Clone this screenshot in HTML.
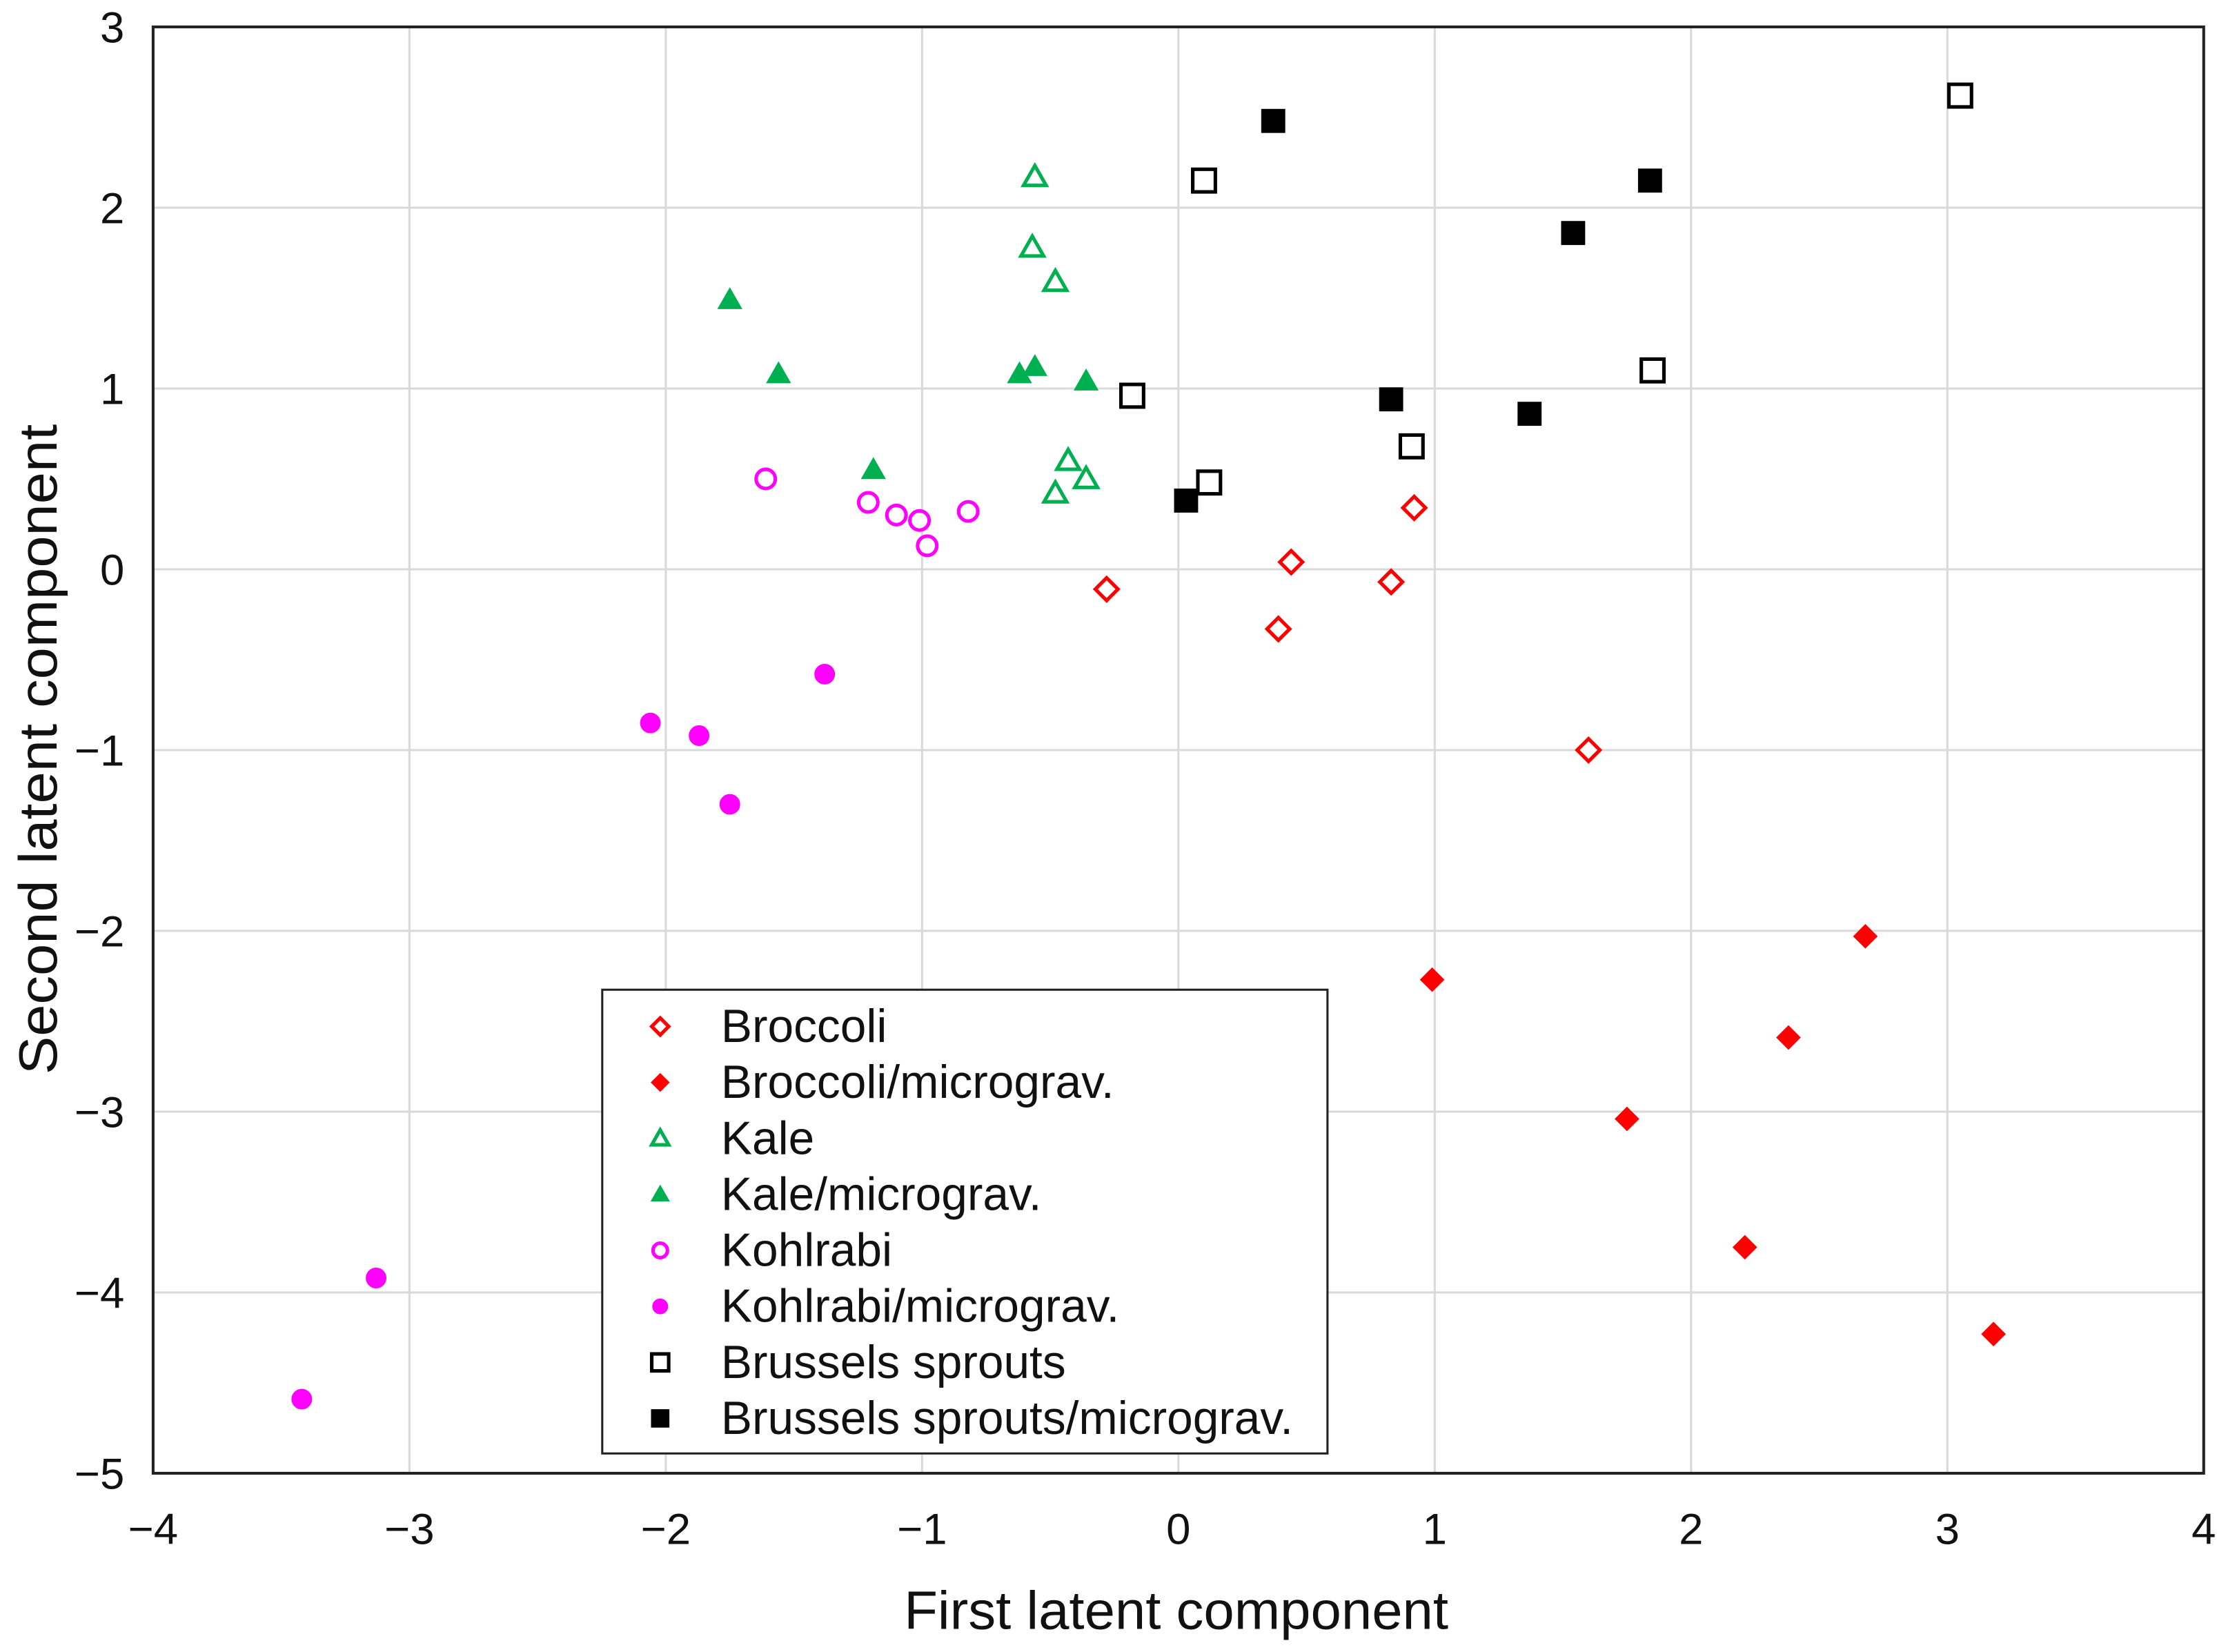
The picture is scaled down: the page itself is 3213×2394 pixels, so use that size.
<!DOCTYPE html>
<html><head><meta charset="utf-8"><style>
html,body{margin:0;padding:0;background:#fff}
svg{display:block}
text{font-family:"Liberation Sans",Arial,sans-serif;fill:#111}
</style></head><body>
<svg id="chart" width="3213" height="2394" viewBox="0 0 1568.2 1168.4" xmlns="http://www.w3.org/2000/svg">
<g id="grid"></g>
<g id="ticks"></g>
<rect x="108.3" y="19" width="1450.5" height="1023" fill="none" stroke="#222" stroke-width="2"/>
<g id="marks"></g>
<text x="832" y="1152" font-size="38" text-anchor="middle" textLength="385" lengthAdjust="spacingAndGlyphs">First latent component</text>
<text transform="translate(40,530) rotate(-90)" font-size="38" text-anchor="middle" textLength="460" lengthAdjust="spacingAndGlyphs">Second latent component</text>
<g id="legend"></g>
</svg>
<script>
const xTicks=[-4,-3,-2,-1,0,1,2,3,4];
const yTicks=[3,2,1,0,-1,-2,-3,-4,-5];
const seriesNames=["Broccoli","Broccoli/micrograv.","Kale","Kale/micrograv.","Kohlrabi","Kohlrabi/micrograv.","Brussels sprouts","Brussels sprouts/micrograv."];
const broccoliX=[-0.28,0.44,0.39,0.83,0.92,1.6];
const broccoliY=[-0.11,0.04,-0.33,-0.07,0.34,-1.0];
const broccoliMX=[0.99,2.68,2.38,1.75,2.21,3.18];
const broccoliMY=[-2.27,-2.03,-2.59,-3.04,-3.75,-4.23];
const kaleX=[-0.56,-0.57,-0.48,-0.43,-0.36,-0.48];
const kaleY=[2.17,1.78,1.59,0.6,0.5,0.42];
const kaleMX=[-1.75,-1.56,-0.62,-0.56,-0.36,-1.19];
const kaleMY=[1.49,1.08,1.08,1.12,1.04,0.55];
const kohlX=[-1.61,-1.21,-1.1,-1.01,-0.98,-0.82];
const kohlY=[0.5,0.37,0.3,0.27,0.13,0.32];
const kohlMX=[-1.38,-2.06,-1.87,-1.75,-3.13,-3.42];
const kohlMY=[-0.58,-0.85,-0.92,-1.3,-3.92,-4.59];
const brusX=[0.1,-0.18,0.12,0.91,1.85,3.05];
const brusY=[2.15,0.96,0.48,0.68,1.1,2.62];
const brusMX=[0.37,1.84,1.54,0.83,1.37,0.03];
const brusMY=[2.48,2.15,1.86,0.94,0.86,0.38];

const L=108.3,R=1558.8,T=19,B=1042;
const sx=v=>L+(v+4)/8*(R-L);
const sy=v=>T+(3-v)/8*(B-T);
const NS="http://www.w3.org/2000/svg";
function mk(tag,attrs,parent){const e=document.createElementNS(NS,tag);for(const k in attrs)e.setAttribute(k,attrs[k]);parent.appendChild(e);return e;}
const grid=document.getElementById('grid'),ticks=document.getElementById('ticks'),marks=document.getElementById('marks'),legend=document.getElementById('legend');
xTicks.forEach(t=>{
  const l=mk('line',{x1:sx(t),x2:sx(t),y1:T,y2:B,stroke:'#d9d9d9','stroke-width':1.5},grid);
  
  
  const tx=mk('text',{x:sx(t),y:1092,'font-size':31,'text-anchor':'middle'},ticks);
  tx.textContent=t<0?'\u2212'+Math.abs(t):String(t);
  
  
});
yTicks.forEach(t=>{
  const l=mk('line',{x1:L,x2:R,y1:sy(t),y2:sy(t),stroke:'#d9d9d9','stroke-width':1.5},grid);
  
  
  const tx=mk('text',{x:88,y:sy(t)+11,'font-size':31,'text-anchor':'end'},ticks);
  tx.textContent=t<0?'\u2212'+Math.abs(t):String(t);
  
  
});
function marker(shape,filled,color,cx,cy,parent,s){
  s=s||7;
  const fill=filled?color:'#fff',sw=filled?1:2.5;let e;
  if(shape==='diamond')e=mk('polygon',{points:`${cx},${cy-s} ${cx+s},${cy} ${cx},${cy+s} ${cx-s},${cy}`,fill,stroke:color,'stroke-width':sw},parent);
  else if(shape==='tri')e=mk('polygon',{points:`${cx},${cy-s} ${cx+s},${cy+s*0.75} ${cx-s},${cy+s*0.75}`,fill,stroke:color,'stroke-width':sw},parent);
  else if(shape==='circle')e=mk('circle',{cx,cy,r:s*0.85,fill,stroke:color,'stroke-width':sw},parent);
  else e=mk('rect',{x:cx-s,y:cy-s,width:2*s,height:2*s,fill,stroke:color,'stroke-width':sw},parent);
  return e;
}
const series=[
 [broccoliX,broccoliY,'diamond',false,'#ff0000'],
 [broccoliMX,broccoliMY,'diamond',true,'#ff0000'],
 [kaleX,kaleY,'tri',false,'#00b050'],
 [kaleMX,kaleMY,'tri',true,'#00b050'],
 [kohlX,kohlY,'circle',false,'#ff00ff'],
 [kohlMX,kohlMY,'circle',true,'#ff00ff'],
 [brusX,brusY,'square',false,'#000'],
 [brusMX,brusMY,'square',true,'#000']];
series.forEach((s,i)=>{
  s[0].forEach((x,j)=>{
    const e=marker(s[2],s[3],s[4],sx(x),sy(s[1][j]),marks,8);
    
    
  });
});
const lb=mk('rect',{x:426,y:700,width:513,height:328,fill:'#fff',stroke:'#222','stroke-width':1.5},legend);


series.forEach((s,i)=>{
  const y=726+i*39.6;
  const m=marker(s[2],s[3],s[4],467,y,legend,6);
  
  
  const t=mk('text',{x:510,y:y+11,'font-size':33},legend);
  t.textContent=seriesNames[i];
  
  
});
</script>
</body></html>
